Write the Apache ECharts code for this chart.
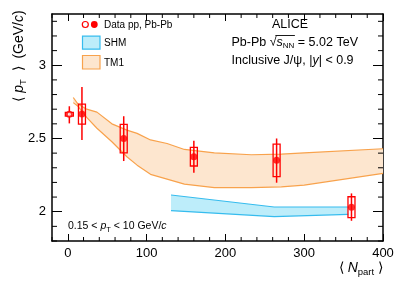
<!DOCTYPE html>
<html><head><meta charset="utf-8">
<script src="https://cdn.jsdelivr.net/npm/echarts@6/dist/echarts.min.js"></script>
<style>html,body{margin:0;padding:0;background:#fff}#c{width:399px;height:287px}</style>
</head><body><div id="c"></div>
<script>
// ---- data ----
const nPartPbPb = [18, 71, 160, 265, 360];
const meanPtPbPb = [2.668, 2.50, 2.375, 2.352, 2.03];
const statLowPbPb = [2.489, 2.346, 2.266, 2.198, 1.938];
const statHighPbPb = [2.852, 2.652, 2.484, 2.50, 2.125];
const sysLowPbPb = [2.598, 2.402, 2.312, 2.239, 1.959];
const sysHighPbPb = [2.734, 2.596, 2.439, 2.461, 2.102];

const nPartPP = [2];
const meanPtPP = [2.666];
const statLowPP = [2.603];
const statHighPP = [2.72];
const sysLowPP = [2.652];
const sysHighPP = [2.678];

const tm1N     = [7, 13, 24, 37, 56, 75, 88, 105, 126, 148, 186, 233, 271, 300, 400];
const tm1Upper = [2.78, 2.735, 2.70, 2.68, 2.60, 2.557, 2.535, 2.49, 2.466, 2.425, 2.402, 2.389, 2.393, 2.402, 2.43];
const tm1Lower = [2.745, 2.72, 2.644, 2.57, 2.478, 2.375, 2.318, 2.255, 2.222, 2.188, 2.164, 2.164, 2.17, 2.182, 2.262];

const shmN     = [131, 262, 356];
const shmUpper = [2.114, 2.032, 2.032];
const shmLower = [2.007, 1.967, 1.982];

const xTickLabels = [0, 100, 200, 300, 400];
const yTickLabels = [2, 2.5, 3];

// ---- styles ----
const red = '#ff0000';
const tm1Fill = '#fde6cf', tm1Line = '#f8a24c';
const shmFill = '#bdedfa', shmLine = '#36bcee';
const FONT = '"Liberation Sans", Arial, Helvetica, sans-serif';
const X_MIN = -20, X_MAX = 400, Y_MIN = 1.8, Y_MAX = 3.35;

const xMinor = [];
for (let v = -20; v <= 400; v += 20) if (v % 100 !== 0) xMinor.push(v);
const yMinor = [];
for (let k = 18; k <= 33; k++) if (k % 5 !== 0) yMinor.push(k / 10);

function bandRender(xs, up, lo, fill) {
  return function (params, api) {
    const pts = [];
    for (let i = 0; i < xs.length; i++) pts.push(api.coord([xs[i], up[i]]));
    for (let i = xs.length - 1; i >= 0; i--) pts.push(api.coord([xs[i], lo[i]]));
    return { type: 'polygon', shape: { points: pts }, style: { fill: fill, stroke: null } };
  };
}
function errRender(half) {
  return function (params, api) {
    const x = api.value(0);
    const c = api.coord([x, api.value(1)]);
    const sLo = api.coord([x, api.value(2)]), sHi = api.coord([x, api.value(3)]);
    const bLo = api.coord([x, api.value(4)]), bHi = api.coord([x, api.value(5)]);
    return { type: 'group', children: [
      { type: 'line', shape: { x1: c[0], y1: sHi[1], x2: c[0], y2: sLo[1] }, style: { stroke: red, lineWidth: 1.5 } },
      { type: 'rect', shape: { x: c[0] - half, y: bHi[1], width: 2 * half, height: bLo[1] - bHi[1] }, style: { fill: null, stroke: red, lineWidth: 1.3 } }
    ] };
  };
}
// minor ticks on all four sides of the frame (inside), placed through the axes' scales
function minorTickRender(params, api) {
  const ch = [];
  const st = { stroke: '#000', lineWidth: 1 };
  xMinor.forEach(v => {
    const b = api.coord([v, Y_MIN]), t = api.coord([v, Y_MAX]);
    ch.push({ type: 'line', shape: { x1: b[0], y1: b[1], x2: b[0], y2: b[1] - 4 }, style: st });
    ch.push({ type: 'line', shape: { x1: t[0], y1: t[1], x2: t[0], y2: t[1] + 4 }, style: st });
  });
  yMinor.forEach(v => {
    const l = api.coord([X_MIN, v]), r = api.coord([X_MAX, v]);
    ch.push({ type: 'line', shape: { x1: l[0], y1: l[1], x2: l[0] + 5, y2: l[1] }, style: st });
    ch.push({ type: 'line', shape: { x1: r[0], y1: r[1], x2: r[0] - 5, y2: r[1] }, style: st });
  });
  return { type: 'group', children: ch };
}
function zip(a, b) { return a.map((v, i) => [v, b[i]]); }

const axisLineSt = { show: true, onZero: false, lineStyle: { color: '#000', width: 1.5 } };
const xAxes = [
  { type: 'value', min: X_MIN, max: X_MAX, position: 'bottom', splitLine: { show: false }, axisLine: axisLineSt,
    axisTick: { show: true, inside: true, length: 7, customValues: xTickLabels, lineStyle: { color: '#000', width: 1 } },
    axisLabel: { show: true, customValues: xTickLabels, fontSize: 13, color: '#000', fontFamily: FONT, margin: 6 } },
  { type: 'value', min: X_MIN, max: X_MAX, position: 'top', splitLine: { show: false }, axisLine: axisLineSt,
    axisTick: { show: true, inside: true, length: 7, customValues: xTickLabels, lineStyle: { color: '#000', width: 1 } },
    axisLabel: { show: false } }
];
const yAxes = [
  { type: 'value', min: Y_MIN, max: Y_MAX, position: 'left', splitLine: { show: false }, axisLine: axisLineSt,
    axisTick: { show: true, inside: true, length: 10, customValues: yTickLabels, lineStyle: { color: '#000', width: 1 } },
    axisLabel: { show: true, customValues: yTickLabels, fontSize: 13, color: '#000', fontFamily: FONT, margin: 6,
      formatter: v => String(+(+v).toFixed(2)) } },
  { type: 'value', min: Y_MIN, max: Y_MAX, position: 'right', splitLine: { show: false }, axisLine: axisLineSt,
    axisTick: { show: true, inside: true, length: 10, customValues: yTickLabels, lineStyle: { color: '#000', width: 1 } },
    axisLabel: { show: false } }
];

// measure helper for the sqrt overline
const mctx = document.createElement('canvas').getContext('2d');
function tw(text, size, italic) { mctx.font = (italic ? 'italic ' : '') + size + 'px ' + FONT; return mctx.measureText(text).width; }

const L2x = 231.5, L2y = 42.3, fs = 12.5;
const w1 = tw('Pb-Pb \u221A', fs), wS = tw('s', fs, true), wNN = tw('NN', 8);
const ovX1 = L2x + tw('Pb-Pb ', fs) + tw('\u221A', fs) - 1.2;
const ovX2 = L2x + w1 + wS + wNN + 0.5;

const graphics = [
  // y title
  { type: 'text', x: 19, y: 56, rotation: Math.PI / 2, style: {
      text: '{a|\u27E8 }{i|p}{s|T}{a|  \u27E9  (GeV/}{i|c}{a|)}', align: 'center', verticalAlign: 'middle',
      rich: { a: { fontSize: 14, fontFamily: FONT, fill: '#000' },
              i: { fontSize: 14, fontFamily: FONT, fontStyle: 'italic', fill: '#000' },
              s: { fontSize: 9.5, fontFamily: FONT, fill: '#000', lineHeight: 19, verticalAlign: 'bottom' } } } },
  // x title
  { type: 'text', x: 383, y: 268, style: {
      text: '{a|\u27E8 }{i|N}{s|part}{a| \u27E9}', align: 'right', verticalAlign: 'middle',
      rich: { a: { fontSize: 14, fontFamily: FONT, fill: '#000' },
              i: { fontSize: 14, fontFamily: FONT, fontStyle: 'italic', fill: '#000' },
              s: { fontSize: 9.5, fontFamily: FONT, fill: '#000', lineHeight: 19, verticalAlign: 'bottom' } } } },
  // legend
  { type: 'circle', shape: { cx: 85.3, cy: 24.5, r: 3.0 }, style: { fill: '#fff', stroke: red, lineWidth: 1.2 } },
  { type: 'circle', shape: { cx: 94.3, cy: 24.5, r: 3.4 }, style: { fill: red } },
  { type: 'text', x: 104, y: 25, style: { text: 'Data pp, Pb-Pb', fontSize: 10, fontFamily: FONT, fill: '#000', verticalAlign: 'middle' } },
  { type: 'rect', shape: { x: 82.5, y: 36.2, width: 17.5, height: 13 }, style: { fill: shmFill, stroke: shmLine, lineWidth: 1.2 } },
  { type: 'text', x: 104, y: 43.5, style: { text: 'SHM', fontSize: 10, fontFamily: FONT, fill: '#000', verticalAlign: 'middle' } },
  { type: 'rect', shape: { x: 82.5, y: 55.5, width: 17.5, height: 13.5 }, style: { fill: tm1Fill, stroke: tm1Line, lineWidth: 1.2 } },
  { type: 'text', x: 104, y: 63.3, style: { text: 'TM1', fontSize: 10, fontFamily: FONT, fill: '#000', verticalAlign: 'middle' } },
  // top right annotations
  { type: 'text', x: 290, y: 24.7, style: { text: 'ALICE', fontSize: fs, fontFamily: FONT, fill: '#000', align: 'center', verticalAlign: 'middle' } },
  { type: 'text', x: L2x, y: L2y, style: { text: 'Pb-Pb \u221A', fontSize: fs, fontFamily: FONT, fill: '#000', verticalAlign: 'middle' } },
  { type: 'text', x: L2x + w1, y: L2y, style: { text: 's', fontSize: fs, fontStyle: 'italic', fontFamily: FONT, fill: '#000', verticalAlign: 'middle' } },
  { type: 'text', x: L2x + w1 + wS, y: L2y + 3.5, style: { text: 'NN', fontSize: 8, fontFamily: FONT, fill: '#000', verticalAlign: 'middle' } },
  { type: 'text', x: L2x + w1 + wS + wNN, y: L2y, style: { text: ' = 5.02 TeV', fontSize: fs, fontFamily: FONT, fill: '#000', verticalAlign: 'middle' } },
  { type: 'line', shape: { x1: ovX1, y1: L2y - 6.8, x2: ovX2, y2: L2y - 6.8 }, style: { stroke: '#000', lineWidth: 0.9 } },
  { type: 'text', x: L2x, y: 60.7, style: {
      text: '{a|Inclusive J/\u03C8, |}{i|y}{a|| < 0.9}', verticalAlign: 'middle',
      rich: { a: { fontSize: fs, fontFamily: FONT, fill: '#000' }, i: { fontSize: fs, fontFamily: FONT, fontStyle: 'italic', fill: '#000' } } } },
  // bottom-left annotation
  { type: 'text', x: 68, y: 226, style: {
      text: '{a|0.15 < }{i|p}{s|T}{a| < 10 GeV/}{i|c}', verticalAlign: 'middle',
      rich: { a: { fontSize: 10.5, fontFamily: FONT, fill: '#000' }, i: { fontSize: 10.5, fontFamily: FONT, fontStyle: 'italic', fill: '#000' },
              s: { fontSize: 7.5, fontFamily: FONT, fill: '#000', lineHeight: 15, verticalAlign: 'bottom' } } } }
];

const chart = echarts.init(document.getElementById('c'), null, { renderer: 'canvas' });
chart.setOption({
  animation: false,
  backgroundColor: '#fff',
  grid: { left: 52, right: 16, top: 14, bottom: 46, containLabel: false },
  xAxis: xAxes,
  yAxis: yAxes,
  graphic: graphics,
  series: [
    { type: 'custom', name: 'minor ticks', renderItem: minorTickRender, data: [[100, 2.5]], z: 5, silent: true, clip: false },
    { type: 'custom', name: 'TM1', renderItem: bandRender(tm1N, tm1Upper, tm1Lower, tm1Fill), data: [[100, 2.5]], z: 1, silent: true },
    { type: 'custom', name: 'SHM', renderItem: bandRender(shmN, shmUpper, shmLower, shmFill), data: [[200, 2.0]], z: 1, silent: true },
    { type: 'line', data: zip(tm1N, tm1Upper), showSymbol: false, lineStyle: { color: tm1Line, width: 1.2 }, z: 2, silent: true },
    { type: 'line', data: zip(tm1N, tm1Lower), showSymbol: false, lineStyle: { color: tm1Line, width: 1.2 }, z: 2, silent: true },
    { type: 'line', data: zip(shmN, shmUpper), showSymbol: false, lineStyle: { color: shmLine, width: 1.2 }, z: 2, silent: true },
    { type: 'line', data: zip(shmN, shmLower), showSymbol: false, lineStyle: { color: shmLine, width: 1.2 }, z: 2, silent: true },
    { type: 'custom', name: 'Pb-Pb errors', renderItem: errRender(3.5), z: 3,
      data: nPartPbPb.map((x, i) => [x, meanPtPbPb[i], statLowPbPb[i], statHighPbPb[i], sysLowPbPb[i], sysHighPbPb[i]]) },
    { type: 'custom', name: 'pp errors', renderItem: errRender(4), z: 3,
      data: nPartPP.map((x, i) => [x, meanPtPP[i], statLowPP[i], statHighPP[i], sysLowPP[i], sysHighPP[i]]) },
    { type: 'scatter', name: 'Pb-Pb', data: zip(nPartPbPb, meanPtPbPb), symbol: 'circle', symbolSize: 7, itemStyle: { color: red }, z: 4 },
    { type: 'scatter', name: 'pp', data: zip(nPartPP, meanPtPP), symbol: 'emptyCircle', symbolSize: 5, itemStyle: { color: red, borderColor: red, borderWidth: 1 }, z: 4 }
  ]
});
</script>
</body></html>
